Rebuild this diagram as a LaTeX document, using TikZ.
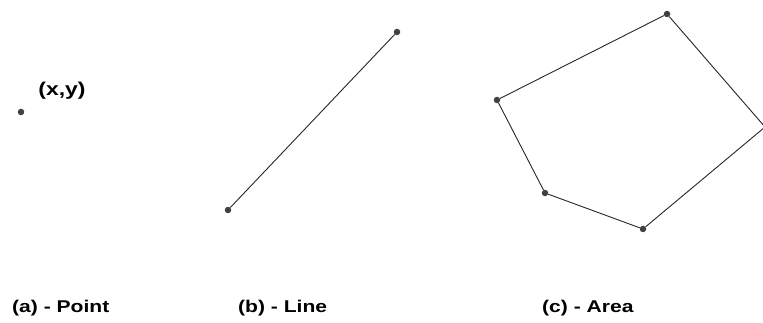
\documentclass[tikz,border=0pt]{standalone}
\usepackage{fontspec}
\setmainfont{Liberation Sans}
\newfontfamily\capfont[FakeStretch=1.24]{Liberation Sans}
\usetikzlibrary{positioning}

\begin{document}
\begin{tikzpicture}[x=1pt, y=-1pt,
    vertex/.style={circle, fill=black!75, inner sep=0pt, minimum size=6.5pt},
    edge/.style={draw=black!85, line width=0.9pt},
    caption/.style={font=\capfont\fontsize{17}{19}\selectfont\bfseries, anchor=west, inner sep=0pt}
]
    \useasboundingbox (0,0) rectangle (763,323);
    % (a) point
    \node[vertex] (pt) at (21,112) {};
    \node[font=\capfont\fontsize{18.5}{21}\selectfont\bfseries, inner sep=0pt] (ptlabel) at (62,91) {(x,y)};
    % (b) line
    \node[vertex] (l1) at (228,210) {};
    \node[vertex] (l2) at (397,32) {};
    \draw[edge] (l1) -- (l2);
    % (c) area
    \node[vertex] (a1) at (667,14) {};
    \node[vertex] (a2) at (497,100) {};
    \node[vertex] (a3) at (545,193) {};
    \node[vertex] (a4) at (643,229) {};
    \coordinate (a5) at (765,127);
    \draw[edge] (a1) -- (a2) -- (a3) -- (a4) -- (a5) -- (a1);
    % captions
    \node[caption] (capa) at (12,308) {(a) - Point};
    \node[caption] (capb) at (238,308) {(b) - Line};
    \node[caption] (capc) at (542,308) {(c) - Area};
\end{tikzpicture}
\end{document}
